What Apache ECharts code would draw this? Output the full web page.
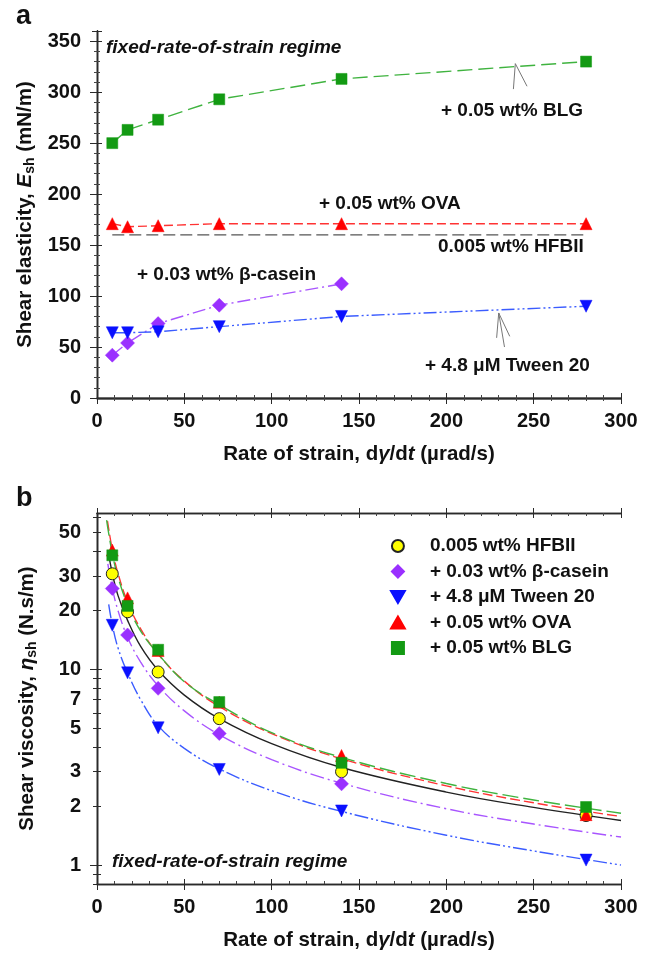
<!DOCTYPE html>
<html>
<head>
<meta charset="utf-8">
<script src="https://cdn.jsdelivr.net/npm/echarts@6/dist/echarts.min.js"></script>
<style>
html,body{margin:0;padding:0;background:#fff;}
#chart{width:653px;height:957px;}
</style>
</head>
<body>
<div id="chart"></div>
<script>
// ---------- data ----------
const rates = [8.75, 17.5, 35, 70, 140, 280];
const ratesCasein = [8.75, 17.5, 35, 70, 140];
// panel a: shear elasticity (mN/m)
const esBLG = [250, 263, 273, 293, 313, 330];
const esOVA = [171, 168, 169, 171, 171, 171];
const esHFBIIx = [8.75, 280];
const esHFBII = [160, 160];
const esCasein = [42, 54, 73, 91, 112];
const esTween = [64, 64, 65, 70, 80, 90];
// annotation arrows (data coords)
const arrowBLGx = [238.4, 239.5, 246.2];
const arrowBLGy = [303, 328, 305.8];
const arrowTweenX = [228.8, 230, 233.3];
const arrowTweenY = [59, 83.4, 50];
const arrowTween2X = [230, 236.3];
const arrowTween2Y = [83.4, 60.5];
// panel b: shear viscosity (N.s/m)
const etaHFBII = [30.8, 19.7, 9.7, 5.6, 3.0, 1.79];
const etaCasein = [25.9, 15.0, 8.0, 4.7, 2.6];
const etaTween = [16.8, 9.6, 5.03, 3.08, 1.89, 1.06];
const etaOVA = [40.7, 23.2, 12.5, 6.8, 3.63, 1.81];
const etaBLG = [38.3, 21.1, 12.6, 6.81, 3.33, 1.98];
// fitted curves
const fitHFBIIx = [6.5, 8.75, 12, 17.5, 25, 35, 50, 70, 100, 140, 200, 250, 300];
const fitHFBII  = [39.6, 31, 23.9, 17.8, 13.1, 9.9, 7.39, 5.6, 4.17, 3.15, 2.36, 1.97, 1.69];
const fitCaseinX = [6.2, 8.75, 12, 17.5, 25, 35, 50, 70, 100, 140, 200, 250, 300];
const fitCasein  = [34.6, 26, 20.0, 14.6, 10.9, 8.24, 6.14, 4.64, 3.46, 2.62, 1.94, 1.62, 1.39];
const fitTweenX = [6.7, 8.75, 12, 17.5, 25, 35, 50, 70, 100, 140, 200, 250, 300];
const fitTween  = [21.5, 16.9, 12.9, 9.6, 7.0, 5.15, 3.95, 3.1, 2.4, 1.88, 1.42, 1.18, 1.0];
const fitOVAx = [6, 8.75, 12, 17.5, 25, 35, 50, 70, 100, 140, 200, 250, 300];
const fitOVA  = [57.3, 41, 31.0, 22.1, 16.1, 11.96, 8.71, 6.46, 4.70, 3.49, 2.54, 2.08, 1.77];
const fitBLGx = [5.5, 8.75, 12, 17.5, 25, 35, 50, 70, 100, 140, 200, 250, 300];
const fitBLG  = [58, 39, 29.7, 21.4, 15.7, 12.0, 8.65, 6.6, 4.75, 3.55, 2.61, 2.15, 1.84];
// ticks
const xTicks = {min: 0, max: 300, interval: 50};
const yTopTicks = {min: 0, max: 360, interval: 50};
const yLogLabels = [1, 2, 3, 5, 7, 10, 20, 30, 50];
const yLogMajor = [1, 10];
const yLogMinor = [0.8, 0.9, 1, 2, 3, 4, 5, 6, 7, 8, 9, 10, 20, 30, 40, 50, 60];
const legendNames = ['0.005 wt% HFBII', '+ 0.03 wt% β-casein', '+ 4.8 μM Tween 20', '+ 0.05 wt% OVA', '+ 0.05 wt% BLG'];

const zip = (xs, ys) => xs.map((x, i) => [x, ys[i]]);

// ---------- styles ----------
const FONT = 'Liberation Sans';
const AX = '#2a2a2a';
const downTri = 'path://M0,0L10,0L5,8.66Z';
const upTri = 'path://M5,0L10,8.66L0,8.66Z';
const diamondP = 'path://M5,0L10,5L5,10L0,5Z';
const rectP = 'path://M0,0L10,0L10,10L0,10Z';
const labelStyle = {fontFamily: FONT, fontWeight: 'bold', fontSize: 20, color: '#111'};
const nameStyle = {
  fontFamily: FONT, fontWeight: 'bold', fontSize: 20.5, color: '#111',
  rich: {
    i: {fontFamily: FONT, fontWeight: 'bold', fontStyle: 'italic', fontSize: 20.5, color: '#111'},
    s: {fontFamily: FONT, fontWeight: 'bold', fontSize: 14, color: '#111', padding: [9, 0, 0, 0]}
  }
};

function xAxesFor(g, name) {
  const base = {gridIndex: g, type: 'value', min: xTicks.min, max: xTicks.max, interval: xTicks.interval,
    splitLine: {show: false}, axisLine: {lineStyle: {color: AX, width: 1.3}}};
  return [
    Object.assign({}, base, {position: 'bottom', axisTick: {inside: false, length: 6, lineStyle: {color: AX}},
      axisLabel: Object.assign({margin: 13}, labelStyle),
      name: name, nameLocation: 'middle', nameGap: 46, nameTextStyle: nameStyle}),
    Object.assign({}, base, {position: 'bottom', axisTick: {inside: true, length: 5, lineStyle: {color: AX}},
      minorTick: {show: true, splitNumber: 5, length: 3, lineStyle: {color: '#444'}}, axisLabel: {show: false}}),
    Object.assign({}, base, {position: 'top', axisTick: {inside: true, length: 5, lineStyle: {color: AX}},
      minorTick: {show: true, splitNumber: 5, length: 3, lineStyle: {color: '#444'}}, axisLabel: {show: false}}),
    Object.assign({}, base, {position: 'top', axisTick: {inside: false, length: 5, lineStyle: {color: AX}}, axisLabel: {show: false}})
  ];
}

const yTopBase = {gridIndex: 0, type: 'value', min: yTopTicks.min, max: yTopTicks.max, interval: yTopTicks.interval,
  splitLine: {show: false}, axisLine: {lineStyle: {color: AX, width: 1.3}}};
const yLogBase = {gridIndex: 1, type: 'log', logBase: 10, min: 0.8, max: 63,
  splitLine: {show: false}, axisLine: {lineStyle: {color: AX, width: 1.3}}};

const yAxes = [
  Object.assign({}, yTopBase, {position: 'left', axisTick: {inside: false, length: 7, lineStyle: {color: AX}},
    axisLabel: Object.assign({margin: 16, showMaxLabel: false}, labelStyle),
    name: 'Shear elasticity, {i|E}{s|sh} (mN/m)', nameLocation: 'middle', nameGap: 58, nameRotate: 90, nameTextStyle: nameStyle}),
  Object.assign({}, yTopBase, {position: 'left', axisTick: {inside: true, length: 5, lineStyle: {color: AX}},
    minorTick: {show: true, splitNumber: 5, length: 3, lineStyle: {color: '#444'}}, axisLabel: {show: false}}),
  Object.assign({}, yTopBase, {position: 'right', axisTick: {inside: true, length: 5, lineStyle: {color: AX}},
    minorTick: {show: true, splitNumber: 5, length: 3, lineStyle: {color: '#444'}}, axisLabel: {show: false}}),
  Object.assign({}, yTopBase, {position: 'right', axisTick: {inside: false, length: 5, lineStyle: {color: AX}}, axisLabel: {show: false}}),

  Object.assign({}, yLogBase, {position: 'left', axisTick: {inside: false, length: 7, customValues: yLogMajor, lineStyle: {color: AX}},
    axisLabel: Object.assign({margin: 16, customValues: yLogLabels}, labelStyle),
    name: 'Shear viscosity, {i|η}{s|sh} (N.s/m)', nameLocation: 'middle', nameGap: 58, nameRotate: 90, nameTextStyle: nameStyle}),
  Object.assign({}, yLogBase, {position: 'left', axisTick: {inside: true, length: 4, customValues: yLogMinor, lineStyle: {color: AX}}, axisLabel: {show: false}}),
  Object.assign({}, yLogBase, {position: 'right', axisTick: {inside: true, length: 4, customValues: yLogMinor, lineStyle: {color: AX}}, axisLabel: {show: false}}),
  Object.assign({}, yLogBase, {position: 'right', axisTick: {inside: false, length: 5, customValues: yLogMajor, lineStyle: {color: AX}}, axisLabel: {show: false}})
];

const xName = 'Rate of strain, d{i|γ}/d{i|t} (µrad/s)';
const xAxes = xAxesFor(0, xName).concat(xAxesFor(1, xName));

const C = {
  green: '#139a13', greenLine: '#3fb33f',
  red: '#ff0000', redLine: '#ff3333',
  purple: '#9a30ff', purpleLine: '#a855ff',
  blue: '#0a10ff', blueLine: '#3b5cff',
  gray: '#555555'
};

function topLine(name, data, color, lineColor, dash, symbol, size) {
  return {name: name, type: 'line', xAxisIndex: 0, yAxisIndex: 0, data: data, symbol: symbol, symbolSize: size,
    showSymbol: symbol !== 'none', itemStyle: {color: color, borderColor: color, borderWidth: 0.5},
    lineStyle: {color: lineColor, width: 1.4, type: dash}, z: 3, animation: false};
}
function arrow(xs, ys) {
  return {type: 'line', xAxisIndex: 0, yAxisIndex: 0, data: zip(xs, ys), symbol: 'none', silent: true,
    lineStyle: {color: '#777', width: 1}, z: 2, animation: false};
}
function fit(name, xs, ys, color, dash) {
  return {name: name, type: 'line', xAxisIndex: 4, yAxisIndex: 4, data: zip(xs, ys), symbol: 'none', smooth: 0.4,
    lineStyle: {color: color, width: 1.4, type: dash}, z: 2, animation: false, silent: true};
}
function pts(name, xs, ys, color, symbol, size, border) {
  return {name: name, type: 'scatter', xAxisIndex: 4, yAxisIndex: 4, data: zip(xs, ys), symbol: symbol, symbolSize: size,
    itemStyle: {color: color, borderColor: border || color, borderWidth: border ? 1 : 0.5, opacity: 1}, z: 4, animation: false};
}

const series = [
  topLine('a HFBII', zip(esHFBIIx, esHFBII), C.gray, C.gray, [12, 5], 'none', 0),
  topLine('a OVA', zip(rates, esOVA), C.red, C.redLine, [9, 4], 'triangle', 12),
  topLine('a BLG', zip(rates, esBLG), C.green, C.greenLine, [15, 6], 'rect', 11),
  topLine('a casein', zip(ratesCasein, esCasein), C.purple, C.purpleLine, [13, 4, 2, 4], 'diamond', 14),
  topLine('a tween', zip(rates, esTween), C.blue, C.blueLine, [13, 3, 2, 3, 2, 3], downTri, 12),
  arrow(arrowBLGx, arrowBLGy),
  arrow(arrowTweenX, arrowTweenY),
  arrow(arrowTween2X, arrowTween2Y),

  fit('f HFBII', fitHFBIIx, fitHFBII, '#222222', 'solid'),
  fit('f casein', fitCaseinX, fitCasein, C.purpleLine, [14, 4, 2, 4]),
  fit('f tween', fitTweenX, fitTween, C.blueLine, [14, 3, 2, 3, 2, 3]),
  fit('f OVA', fitOVAx, fitOVA, C.redLine, [10, 4]),
  fit('f BLG', fitBLGx, fitBLG, C.greenLine, [16, 5]),
  pts(legendNames[0], rates, etaHFBII, '#ffff00', 'circle', 12, '#222'),
  pts(legendNames[1], ratesCasein, etaCasein, C.purple, 'diamond', 14),
  pts(legendNames[2], rates, etaTween, C.blue, downTri, 12),
  pts(legendNames[3], rates, etaOVA, C.red, 'triangle', 12),
  pts(legendNames[4], rates, etaBLG, C.green, 'rect', 11)
];

const txt = (text, x, y, font) => ({type: 'text', x: x, y: y, silent: true,
  style: {text: text, font: font, fill: '#111', verticalAlign: 'middle', align: 'left'}});
const F19 = 'bold 19px "Liberation Sans"';
const F19i = 'italic bold 19px "Liberation Sans"';

const option = {
  backgroundColor: '#fff',
  animation: false,
  grid: [
    {left: 97, top: 31, width: 524, height: 367},
    {left: 97, top: 513, width: 524, height: 371}
  ],
  xAxis: xAxes,
  yAxis: yAxes,
  legend: {
    orient: 'vertical', left: 390, top: 536, itemWidth: 54, itemHeight: 12, itemGap: 5.5, padding: 0,
    selectedMode: false, symbolKeepAspect: true,
    textStyle: {fontFamily: FONT, fontWeight: 'bold', fontSize: 19, color: '#111', lineHeight: 20},
    data: [
      {name: legendNames[0], icon: 'circle'},
      {name: legendNames[1], icon: diamondP},
      {name: legendNames[2], icon: downTri},
      {name: legendNames[3], icon: upTri},
      {name: legendNames[4], icon: rectP}
    ]
  },
  graphic: [
    txt('a', 16, 17, 'bold 27px "Liberation Sans"'),
    txt('b', 16, 499, 'bold 27px "Liberation Sans"'),
    txt('fixed-rate-of-strain regime', 106, 48, F19i),
    txt('+ 0.05 wt% BLG', 441, 111, F19),
    txt('+ 0.05 wt% OVA', 319, 204, F19),
    txt('0.005 wt% HFBII', 438, 247, F19),
    txt('+ 0.03 wt% β-casein', 137, 275, F19),
    txt('+ 4.8 μM Tween 20', 425, 366, F19),
    txt('fixed-rate-of-strain regime', 112, 862, F19i)
  ],
  series: series
};

const chart = echarts.init(document.getElementById('chart'), null, {renderer: 'canvas'});
chart.setOption(option);
</script>
</body>
</html>
